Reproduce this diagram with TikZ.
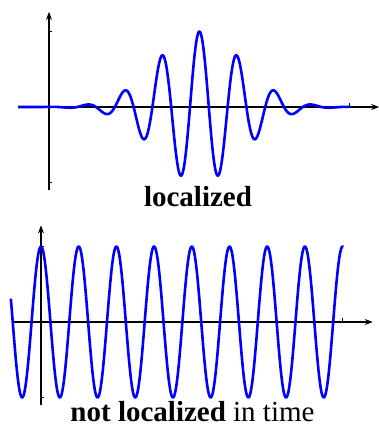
\documentclass[tikz,border=0pt]{standalone}
\usepackage{fontspec}
\setmainfont{Liberation Serif}
\newfontfamily\capserif{Liberation Serif}
\usetikzlibrary{arrows.meta}
\tikzset{
  axis/.style={black, line width=1.3pt, -{Stealth[length=8pt,width=6pt]}},
  tick/.style={black, line width=0.8pt},
  wave/.style={blue, line width=2.6pt, line join=round},
  caption/.style={anchor=base, inner sep=0pt, font=\capserif\fontsize{29}{31}\selectfont}
}
\begin{document}
\begin{tikzpicture}[x=1pt,y=1pt]
\useasboundingbox (0,0) rectangle (379,-426);
% ---------- top plot ----------
\begin{scope}[shift={(49,-107)}, x=37.6pt, y=75.5pt]
  \coordinate (o1) at (0,0);
  \draw[axis] (-0.82,0) -- (8.78,0);
  \draw[axis] (0,-1.1) -- (0,1.26);
  \draw[tick] (0,1) -- (0.09,1);
  \draw[tick] (0,-1) -- (0.09,-1);
  \draw[tick] (8,0) -- (8,0.05);
  \draw[wave] plot[domain=-0.82:8, samples=500, variable=\t]
    (\t, {cos(360*(\t-4))*exp(-0.385*(\t-4)*(\t-4))});
\end{scope}
\node[caption] (l1) at (198,-206.5) {\bfseries localized};
% ---------- bottom plot ----------
\begin{scope}[shift={(41,-322)}, x=37.7pt, y=75.5pt]
  \coordinate (o2) at (0,0);
  \draw[axis] (-0.77,0) -- (8.8,0);
  \draw[axis] (0,-1.1) -- (0,1.28);
  \draw[tick] (0,1) -- (0.09,1);
  \draw[tick] (0,-1) -- (0.09,-1);
  \draw[tick] (8,0) -- (8,0.05);
  \draw[wave] plot[domain=-0.8:8.02, samples=500, variable=\t]
    (\t, {cos(360*\t)});
\end{scope}
\node[caption] (l2) at (192.5,-421.5) {\bfseries not localized\mdseries{} in time};
\end{tikzpicture}
\end{document}
